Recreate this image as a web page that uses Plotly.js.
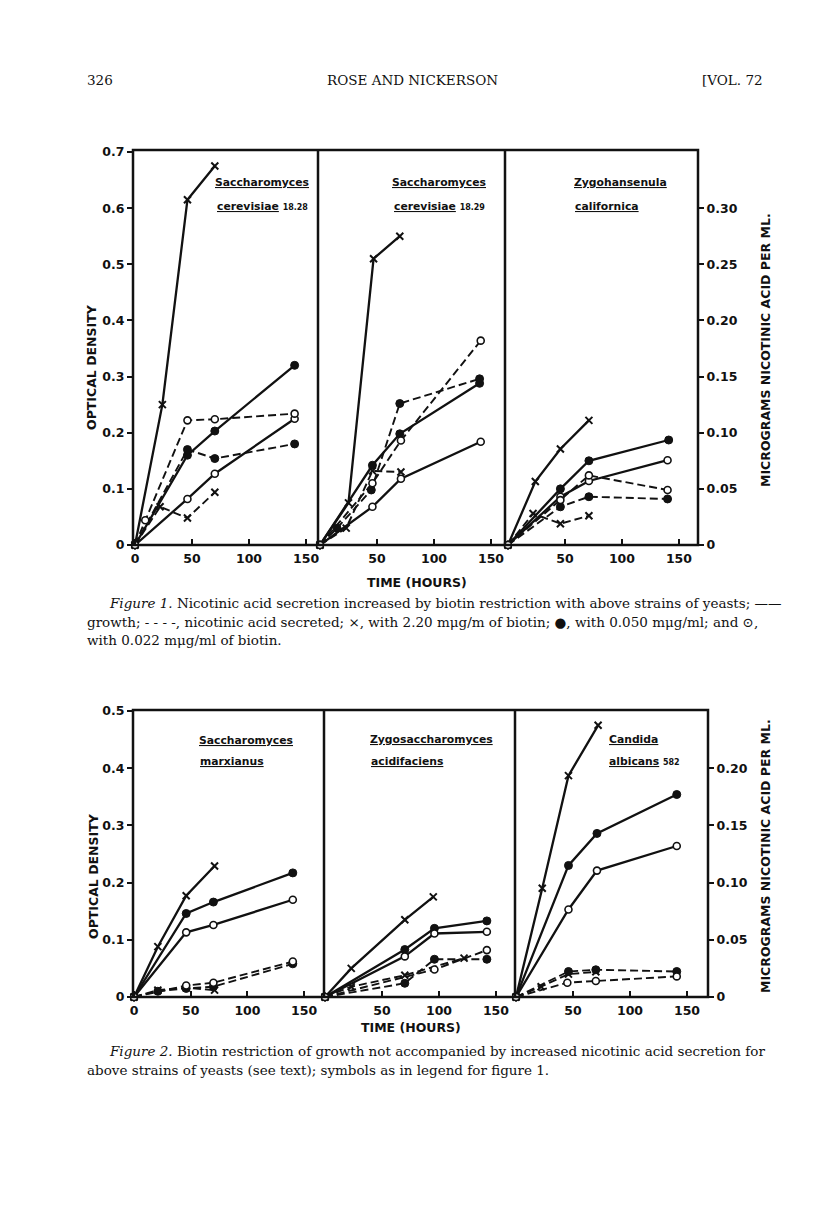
<!DOCTYPE html>
<html>
<head>
<meta charset="utf-8">
<script src="https://cdn.plot.ly/plotly-3.0.1.min.js"></script>
<style>html,body{margin:0;padding:0;background:#fff;}#chart{width:816px;height:1227px;}</style>
</head>
<body>
<div id="chart"></div>
<script>
// ---------- DATA (hours; growth = optical density; secretion = micrograms nicotinic acid per ml) ----------
// Figure 1, panel 1: Saccharomyces cerevisiae 18.28
const f1p1_growth_x_t = [0, 24, 46, 70];
const f1p1_growth_x_v = [0, 0.25, 0.615, 0.675];
const f1p1_growth_f_t = [0, 46, 70, 140];
const f1p1_growth_f_v = [0, 0.16, 0.203, 0.32];
const f1p1_growth_o_t = [0, 46, 70, 140];
const f1p1_growth_o_v = [0, 0.082, 0.127, 0.225];
const f1p1_acid_x_t = [0, 22, 46, 70];
const f1p1_acid_x_v = [0, 0.034, 0.024, 0.047];
const f1p1_acid_f_t = [0, 46, 70, 140];
const f1p1_acid_f_v = [0, 0.085, 0.077, 0.09];
const f1p1_acid_o_t = [0, 9, 46, 70, 140];
const f1p1_acid_o_v = [0, 0.022, 0.111, 0.112, 0.117];
// Figure 1, panel 2: Saccharomyces cerevisiae 18.29
const f1p2_growth_x_t = [0, 25, 47, 70];
const f1p2_growth_x_v = [0, 0.075, 0.51, 0.55];
const f1p2_growth_f_t = [0, 46, 70, 140];
const f1p2_growth_f_v = [0, 0.142, 0.198, 0.288];
const f1p2_growth_o_t = [0, 46, 71, 141];
const f1p2_growth_o_v = [0, 0.068, 0.118, 0.184];
const f1p2_acid_x_t = [0, 23, 46, 71];
const f1p2_acid_x_v = [0, 0.015, 0.066, 0.065];
const f1p2_acid_f_t = [0, 15, 45, 70, 140];
const f1p2_acid_f_v = [0, 0.015, 0.049, 0.126, 0.148];
const f1p2_acid_o_t = [0, 46, 71, 141];
const f1p2_acid_o_v = [0, 0.055, 0.093, 0.182];
// Figure 1, panel 3: Zygohansenula californica
const f1p3_growth_x_t = [0, 24, 46, 71];
const f1p3_growth_x_v = [0, 0.113, 0.171, 0.222];
const f1p3_growth_f_t = [0, 46, 71, 141];
const f1p3_growth_f_v = [0, 0.1, 0.15, 0.187];
const f1p3_growth_o_t = [0, 46, 71, 140];
const f1p3_growth_o_v = [0, 0.086, 0.114, 0.151];
const f1p3_acid_x_t = [0, 22, 46, 71];
const f1p3_acid_x_v = [0, 0.028, 0.019, 0.026];
const f1p3_acid_f_t = [0, 46, 71, 140];
const f1p3_acid_f_v = [0, 0.034, 0.043, 0.041];
const f1p3_acid_o_t = [0, 46, 71, 140];
const f1p3_acid_o_v = [0, 0.04, 0.062, 0.049];
// Figure 2, panel 1: Saccharomyces marxianus
const f2p1_growth_x_t = [0, 21, 46, 71];
const f2p1_growth_x_v = [0, 0.088, 0.177, 0.229];
const f2p1_growth_f_t = [0, 46, 70, 140];
const f2p1_growth_f_v = [0, 0.146, 0.166, 0.217];
const f2p1_growth_o_t = [0, 46, 70, 140];
const f2p1_growth_o_v = [0, 0.113, 0.126, 0.17];
const f2p1_acid_x_t = [0, 21, 46, 71];
const f2p1_acid_x_v = [0, 0.006, 0.008, 0.006];
const f2p1_acid_f_t = [0, 21, 46, 70, 140];
const f2p1_acid_f_v = [0, 0.005, 0.0075, 0.009, 0.029];
const f2p1_acid_o_t = [0, 46, 70, 140];
const f2p1_acid_o_v = [0, 0.01, 0.0125, 0.031];
// Figure 2, panel 2: Zygosaccharomyces acidifaciens
const f2p2_growth_x_t = [0, 23, 70, 95];
const f2p2_growth_x_v = [0, 0.05, 0.135, 0.175];
const f2p2_growth_f_t = [0, 70, 96, 142];
const f2p2_growth_f_v = [0, 0.083, 0.12, 0.133];
const f2p2_growth_o_t = [0, 70, 96, 142];
const f2p2_growth_o_v = [0, 0.071, 0.111, 0.114];
const f2p2_acid_x_t = [0, 23, 70, 122];
const f2p2_acid_x_v = [0, 0.009, 0.019, 0.034];
const f2p2_acid_f_t = [0, 70, 96, 142];
const f2p2_acid_f_v = [0, 0.012, 0.033, 0.033];
const f2p2_acid_o_t = [0, 96, 142];
const f2p2_acid_o_v = [0, 0.024, 0.041];
// Figure 2, panel 3: Candida albicans 582
const f2p3_growth_x_t = [0, 23, 46, 72];
const f2p3_growth_x_v = [0, 0.19, 0.387, 0.475];
const f2p3_growth_f_t = [0, 46, 71, 141];
const f2p3_growth_f_v = [0, 0.23, 0.286, 0.354];
const f2p3_growth_o_t = [0, 46, 71, 141];
const f2p3_growth_o_v = [0, 0.153, 0.221, 0.264];
const f2p3_acid_x_t = [0, 22, 46, 70];
const f2p3_acid_x_v = [0, 0.009, 0.02, 0.022];
const f2p3_acid_f_t = [0, 46, 70, 141];
const f2p3_acid_f_v = [0, 0.0223, 0.0238, 0.0223];
const f2p3_acid_o_t = [0, 45, 70, 141];
const f2p3_acid_o_v = [0, 0.0125, 0.014, 0.018];

// tick labels
const timeTicksFirst = [0, 50, 100, 150];
const timeTicksOther = [50, 100, 150];
const od1Ticks = [0, 0.1, 0.2, 0.3, 0.4, 0.5, 0.6, 0.7];
const od1Labels = ['0', '0.1', '0.2', '0.3', '0.4', '0.5', '0.6', '0.7'];
const na1Ticks = [0, 0.05, 0.10, 0.15, 0.20, 0.25, 0.30];
const na1Labels = ['0', '0.05', '0.10', '0.15', '0.20', '0.25', '0.30'];
const od2Ticks = [0, 0.1, 0.2, 0.3, 0.4, 0.5];
const od2Labels = ['0', '0.1', '0.2', '0.3', '0.4', '0.5'];
const na2Ticks = [0, 0.05, 0.10, 0.15, 0.20];
const na2Labels = ['0', '0.05', '0.10', '0.15', '0.20'];

// ---------- DRAWING ----------
const W = 816, H = 1227;
const px = v => v / W;
const py = v => 1 - v / H;
const INK = '#111';

function series(t, v, xa, ya, kind, dashed) {
  let marker;
  if (kind === 'x') marker = {symbol: 'x-thin-open', size: 7, line: {color: INK, width: 2}, color: INK};
  else if (kind === 'f') marker = {symbol: 'circle', size: 8, color: INK, line: {color: INK, width: 1}};
  else marker = {symbol: 'circle', size: 7, color: '#fff', line: {color: INK, width: 1.6}};
  return {
    type: 'scatter', mode: 'lines+markers', x: t, y: v, xaxis: xa, yaxis: ya,
    line: {color: INK, width: dashed ? 1.9 : 2.3, dash: dashed ? '8px,4px' : 'solid'},
    marker: marker, showlegend: false, hoverinfo: 'skip', cliponaxis: false
  };
}

const traces = [
  // Figure 1
  series(f1p1_acid_x_t, f1p1_acid_x_v, 'x', 'y2', 'x', true),
  series(f1p1_acid_f_t, f1p1_acid_f_v, 'x', 'y2', 'f', true),
  series(f1p1_acid_o_t, f1p1_acid_o_v, 'x', 'y2', 'o', true),
  series(f1p1_growth_x_t, f1p1_growth_x_v, 'x', 'y', 'x', false),
  series(f1p1_growth_f_t, f1p1_growth_f_v, 'x', 'y', 'f', false),
  series(f1p1_growth_o_t, f1p1_growth_o_v, 'x', 'y', 'o', false),
  series(f1p2_acid_x_t, f1p2_acid_x_v, 'x2', 'y2', 'x', true),
  series(f1p2_acid_f_t, f1p2_acid_f_v, 'x2', 'y2', 'f', true),
  series(f1p2_acid_o_t, f1p2_acid_o_v, 'x2', 'y2', 'o', true),
  series(f1p2_growth_x_t, f1p2_growth_x_v, 'x2', 'y', 'x', false),
  series(f1p2_growth_f_t, f1p2_growth_f_v, 'x2', 'y', 'f', false),
  series(f1p2_growth_o_t, f1p2_growth_o_v, 'x2', 'y', 'o', false),
  series(f1p3_acid_x_t, f1p3_acid_x_v, 'x3', 'y2', 'x', true),
  series(f1p3_acid_f_t, f1p3_acid_f_v, 'x3', 'y2', 'f', true),
  series(f1p3_acid_o_t, f1p3_acid_o_v, 'x3', 'y2', 'o', true),
  series(f1p3_growth_x_t, f1p3_growth_x_v, 'x3', 'y', 'x', false),
  series(f1p3_growth_f_t, f1p3_growth_f_v, 'x3', 'y', 'f', false),
  series(f1p3_growth_o_t, f1p3_growth_o_v, 'x3', 'y', 'o', false),
  // Figure 2
  series(f2p1_acid_x_t, f2p1_acid_x_v, 'x4', 'y4', 'x', true),
  series(f2p1_acid_f_t, f2p1_acid_f_v, 'x4', 'y4', 'f', true),
  series(f2p1_acid_o_t, f2p1_acid_o_v, 'x4', 'y4', 'o', true),
  series(f2p1_growth_x_t, f2p1_growth_x_v, 'x4', 'y3', 'x', false),
  series(f2p1_growth_f_t, f2p1_growth_f_v, 'x4', 'y3', 'f', false),
  series(f2p1_growth_o_t, f2p1_growth_o_v, 'x4', 'y3', 'o', false),
  series(f2p2_acid_x_t, f2p2_acid_x_v, 'x5', 'y4', 'x', true),
  series(f2p2_acid_f_t, f2p2_acid_f_v, 'x5', 'y4', 'f', true),
  series(f2p2_acid_o_t, f2p2_acid_o_v, 'x5', 'y4', 'o', true),
  series(f2p2_growth_x_t, f2p2_growth_x_v, 'x5', 'y3', 'x', false),
  series(f2p2_growth_f_t, f2p2_growth_f_v, 'x5', 'y3', 'f', false),
  series(f2p2_growth_o_t, f2p2_growth_o_v, 'x5', 'y3', 'o', false),
  series(f2p3_acid_x_t, f2p3_acid_x_v, 'x6', 'y4', 'x', true),
  series(f2p3_acid_f_t, f2p3_acid_f_v, 'x6', 'y4', 'f', true),
  series(f2p3_acid_o_t, f2p3_acid_o_v, 'x6', 'y4', 'o', true),
  series(f2p3_growth_x_t, f2p3_growth_x_v, 'x6', 'y3', 'x', false),
  series(f2p3_growth_f_t, f2p3_growth_f_v, 'x6', 'y3', 'f', false),
  series(f2p3_growth_o_t, f2p3_growth_o_v, 'x6', 'y3', 'o', false)
];

const SANS = 'DejaVu Sans, sans-serif';
const SERIF = 'DejaVu Serif, serif';
const tickFont = {family: SANS, size: 12.5, color: INK, weight: 700};

function xax(l, r, range, anchor, first) {
  const tv = first ? timeTicksFirst : timeTicksOther;
  return {
    domain: [px(l), px(r)], anchor: anchor, range: range,
    tickmode: 'array', tickvals: tv, ticktext: tv.map(String),
    ticks: 'inside', ticklen: 6, tickwidth: 2, tickcolor: INK,
    showline: false, showgrid: false, zeroline: false, fixedrange: true,
    tickfont: tickFont, ticklabelstandoff: 4
  };
}
function yax(top, bottom, range, anchor, tv, tt, extra) {
  return Object.assign({
    domain: [py(bottom), py(top)], anchor: anchor, range: range,
    tickmode: 'array', tickvals: tv, ticktext: tt,
    ticks: 'outside', ticklen: 5, tickwidth: 2, tickcolor: INK,
    showline: false, showgrid: false, zeroline: false, fixedrange: true,
    tickfont: tickFont
  }, extra || {});
}

const layout = {
  width: W, height: H,
  margin: {l: 0, r: 0, t: 0, b: 0},
  paper_bgcolor: '#fff', plot_bgcolor: 'rgba(0,0,0,0)',
  showlegend: false,
  xaxis: xax(133, 318, [-1.75, 160.5], 'y', true),
  xaxis2: xax(318, 505, [-1.75, 162.3], 'y', false),
  xaxis3: xax(505, 698, [-2.6, 166.7], 'y', false),
  yaxis: yax(152, 545, [0, 0.7], 'x', od1Ticks, od1Labels),
  yaxis2: yax(152, 545, [0, 0.35], 'x3', na1Ticks, na1Labels, {overlaying: 'y', side: 'right'}),
  xaxis4: xax(133, 324, [-0.9, 167.5], 'y3', true),
  xaxis5: xax(324, 515, [-0.9, 166.7], 'y3', false),
  xaxis6: xax(515, 708, [-0.9, 168.4], 'y3', false),
  yaxis3: yax(711, 997, [0, 0.5], 'x4', od2Ticks, od2Labels),
  yaxis4: yax(711, 997, [0, 0.25], 'x6', na2Ticks, na2Labels, {overlaying: 'y3', side: 'right'}),
  shapes: [],
  annotations: []
};

// frames and panel dividers
function frame(l, t, r, b, dividers) {
  layout.shapes.push({type: 'rect', xref: 'paper', yref: 'paper', x0: px(l), x1: px(r), y0: py(b), y1: py(t),
    line: {color: INK, width: 2.5}, fillcolor: 'rgba(0,0,0,0)', layer: 'above'});
  dividers.forEach(d => layout.shapes.push({type: 'line', xref: 'paper', yref: 'paper', x0: px(d), x1: px(d),
    y0: py(b), y1: py(t), line: {color: INK, width: 2.5}, layer: 'above'}));
}
frame(133, 150, 698, 545, [318, 505]);
frame(133, 710, 708, 997, [324, 515]);

function ann(text, x, y, opts) {
  layout.annotations.push(Object.assign({
    text: text, xref: 'paper', yref: 'paper', x: px(x), y: py(y),
    showarrow: false, xanchor: 'left', yanchor: 'middle',
    font: {family: SANS, size: 12, color: INK, weight: 700}
  }, opts || {}));
}

// header
const serifFont = {family: SERIF, size: 13.5, color: INK};
ann('326', 85, 80, {font: serifFont});
ann('ROSE AND NICKERSON', 412, 80, {xanchor: 'center', font: serifFont});
ann('[VOL. 72', 765, 80, {xanchor: 'right', font: serifFont});

// species labels
const spFont = {family: SANS, size: 10.8, color: INK, weight: 700};
ann('<u>Saccharomyces</u>', 213, 182, {font: spFont});
ann('<u>cerevisiae</u> <span style="font-size:8px">18.28</span>', 215, 206, {font: spFont});
ann('<u>Saccharomyces</u>', 390, 183, {font: spFont});
ann('<u>cerevisiae</u> <span style="font-size:8px">18.29</span>', 392, 206, {font: spFont});
ann('<u>Zygohansenula</u>', 572, 182, {font: spFont});
ann('<u>californica</u>', 573, 206, {font: spFont});
ann('<u>Saccharomyces</u>', 197, 740, {font: spFont});
ann('<u>marxianus</u>', 198, 761, {font: spFont});
ann('<u>Zygosaccharomyces</u>', 368, 739, {font: spFont});
ann('<u>acidifaciens</u>', 369, 761, {font: spFont});
ann('<u>Candida</u>', 607, 739, {font: spFont});
ann('<u>albicans</u> <span style="font-size:8px">582</span>', 607, 761, {font: spFont});

// axis titles
const titleFont = {family: SANS, size: 12.5, color: INK, weight: 700};
ann('OPTICAL DENSITY', 91, 367, {xanchor: 'center', textangle: -90, font: titleFont});
ann('MICROGRAMS NICOTINIC ACID PER ML.', 765, 350, {xanchor: 'center', textangle: -90, font: titleFont});
ann('TIME (HOURS)', 417, 582, {xanchor: 'center', font: titleFont});
ann('OPTICAL DENSITY', 93, 876, {xanchor: 'center', textangle: -90, font: titleFont});
ann('MICROGRAMS NICOTINIC ACID PER ML.', 765, 856, {xanchor: 'center', textangle: -90, font: titleFont});
ann('TIME (HOURS)', 411, 1027, {xanchor: 'center', font: titleFont});

// captions
const capFont = {family: SERIF, size: 13.5, color: INK};
ann('<i>Figure 1.</i> Nicotinic acid secretion increased by biotin restriction with above strains of yeasts; ——', 107, 603, {font: capFont});
ann('growth; - - - -, nicotinic acid secreted; ×, with 2.20 mμg/m of biotin; ●, with 0.050 mμg/ml; and ⊙,', 85, 622, {font: capFont});
ann('with 0.022 mμg/ml of biotin.', 85, 640, {font: capFont});
ann('<i>Figure 2.</i> Biotin restriction of growth not accompanied by increased nicotinic acid secretion for', 107, 1051, {font: capFont});
ann('above strains of yeasts (see text); symbols as in legend for figure 1.', 85, 1070, {font: capFont});

Plotly.newPlot('chart', traces, layout, {staticPlot: true, displayModeBar: false});
</script>
</body>
</html>
